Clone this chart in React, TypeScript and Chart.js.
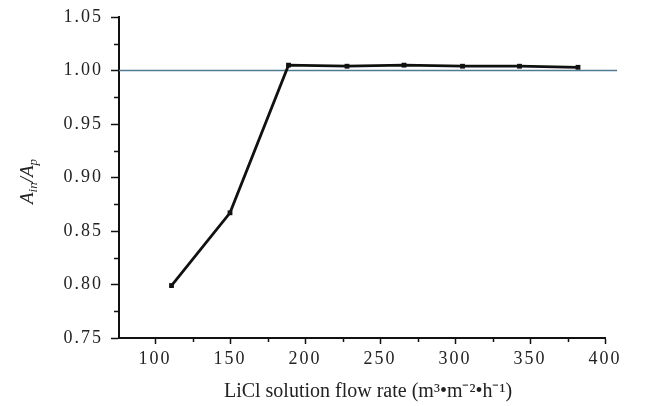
import React, { useEffect, useRef } from 'react';
import { Chart, registerables } from 'chart.js';

Chart.register(...registerables);

// ---- data ----
const flowRates = [111, 150, 189, 228, 266, 305, 343, 382];
const areaRatios = [0.799, 0.867, 1.005, 1.004, 1.005, 1.004, 1.004, 1.003];
const referenceX = [76, 408];
const referenceValue = 1.0;
const xTickValues = [100, 150, 200, 250, 300, 350, 400];
const xMinorTicks = [125, 175, 225, 275, 325, 375];
const yTickValues = [0.75, 0.8, 0.85, 0.9, 0.95, 1.0, 1.05];
const yMinorTicks = [0.775, 0.825, 0.875, 0.925, 0.975, 1.025];
const xTitle = 'LiCl solution flow rate (m\u00B3\u2022m\u207B\u00B2\u2022h\u207B\u00B9)';
const yTitleParts = [
  { text: 'A', sub: false },
  { text: 'in', sub: true },
  { text: '/', sub: false },
  { text: 'A', sub: false },
  { text: 'p', sub: true },
];

const FONT = '"Liberation Serif", "Times New Roman", serif';

const extrasPlugin = {
  id: 'extras',
  beforeDraw(chart: any) {
    chart.ctx.letterSpacing = '2px';
  },
  beforeDatasetsDraw(chart: any) {
    chart.ctx.letterSpacing = '0px';
  },
  afterDraw(chart: any) {
    const ctx = chart.ctx;
    const xs = chart.scales.x;
    const ys = chart.scales.y;
    const area = chart.chartArea;
    ctx.save();
    ctx.letterSpacing = '0px';
    ctx.strokeStyle = '#111';
    ctx.lineWidth = 1.5;
    ctx.beginPath();
    xMinorTicks.forEach((v) => {
      const px = Math.round(xs.getPixelForValue(v)) + 0.5;
      ctx.moveTo(px, area.bottom);
      ctx.lineTo(px, area.bottom + 4);
    });
    yMinorTicks.forEach((v) => {
      const py = Math.round(ys.getPixelForValue(v)) + 0.5;
      ctx.moveTo(area.left, py);
      ctx.lineTo(area.left - 5, py);
    });
    ctx.stroke();

    // x axis title
    ctx.fillStyle = '#222';
    ctx.font = `20px ${FONT}`;
    ctx.textAlign = 'center';
    ctx.textBaseline = 'alphabetic';
    ctx.fillText(xTitle, (area.left + area.right) / 2 + 6, 397);

    // y axis title with subscripts
    const mainSize = 19;
    const subSize = 13;
    ctx.textAlign = 'left';
    let total = 0;
    const widths = yTitleParts.map((p) => {
      ctx.font = `italic ${p.sub ? subSize : mainSize}px ${FONT}`;
      const w = ctx.measureText(p.text).width;
      total += w;
      return w;
    });
    const cy = (area.top + area.bottom) / 2 + 4;
    ctx.translate(33, cy);
    ctx.rotate(-Math.PI / 2);
    let x = -total / 2;
    yTitleParts.forEach((p, i) => {
      ctx.font = `italic ${p.sub ? subSize : mainSize}px ${FONT}`;
      ctx.fillText(p.text, x, p.sub ? 4 : 0);
      x += widths[i];
    });
    ctx.restore();
  },
};

export default function App() {
  const canvasRef = useRef<HTMLCanvasElement | null>(null);

  useEffect(() => {
    document.body.style.margin = '0';
    const canvas = canvasRef.current;
    if (!canvas) return;
    const chart = new Chart(canvas, {
      type: 'line',
      data: {
        datasets: [
          {
            data: flowRates.map((x, i) => ({ x, y: areaRatios[i] })),
            borderColor: '#111',
            backgroundColor: '#111',
            borderWidth: 2.8,
            pointStyle: 'rect',
            pointRadius: 3.4,
            pointBackgroundColor: '#111',
            pointBorderWidth: 0,
            tension: 0,
            order: 0,
          },
          {
            data: referenceX.map((x) => ({ x, y: referenceValue })),
            borderColor: '#4d7c94',
            borderWidth: 1.4,
            pointRadius: 0,
            clip: false,
            order: 1,
          },
        ] as any,
      },
      options: {
        animation: false,
        responsive: true,
        maintainAspectRatio: false,
        devicePixelRatio: 1,
        layout: { padding: { top: 15, right: 56, left: 0, bottom: 0 } },
        plugins: {
          legend: { display: false },
          tooltip: { enabled: false },
        },
        scales: {
          x: {
            type: 'linear',
            min: 76,
            max: 400,
            afterBuildTicks: (s: any) => {
              s.ticks = xTickValues.map((v) => ({ value: v }));
            },
            afterFit: (s: any) => {
              s.height = 68;
            },
            ticks: {
              font: { family: FONT, size: 18 },
              color: '#222',
              padding: 4,
              maxRotation: 0,
              autoSkip: false,
            },
            grid: {
              drawOnChartArea: false,
              tickLength: 6,
              tickColor: '#111',
              tickWidth: 1.5,
            },
            border: { color: '#111', width: 2 },
          },
          y: {
            type: 'linear',
            min: 0.75,
            max: 1.05,
            afterBuildTicks: (s: any) => {
              s.ticks = yTickValues.map((v) => ({ value: v }));
            },
            afterFit: (s: any) => {
              s.width = 119;
            },
            ticks: {
              font: { family: FONT, size: 18, lineHeight: 1 },
              color: '#222',
              padding: 8,
              callback: (v: any) => Number(v).toFixed(2),
            },
            grid: {
              drawOnChartArea: false,
              tickLength: 8,
              tickColor: '#111',
              tickWidth: 1.5,
            },
            border: { color: '#111', width: 2 },
          },
        },
      } as any,
      plugins: [extrasPlugin],
    });
    return () => chart.destroy();
  }, []);

  return (
    <div style={{ position: 'relative', width: 661, height: 406, background: '#fff' }}>
      <canvas ref={canvasRef} />
    </div>
  );
}
